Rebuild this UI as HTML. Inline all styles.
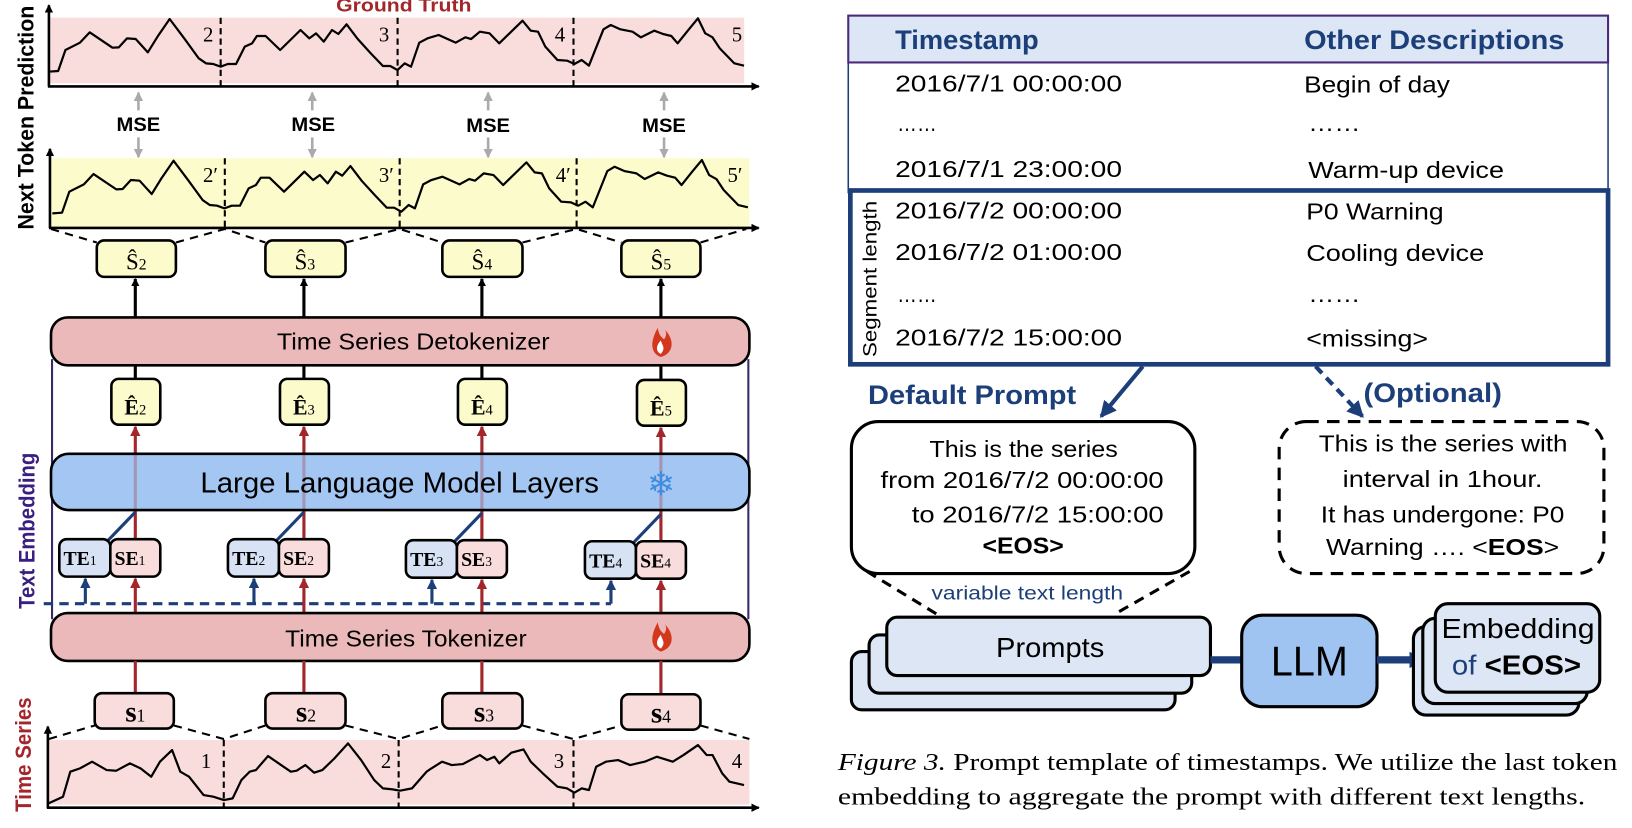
<!DOCTYPE html>
<html><head><meta charset="utf-8"><style>
html,body{margin:0;padding:0;background:#fff;width:1632px;height:828px;overflow:hidden}
svg{display:block}
text{font-family:"Liberation Sans",sans-serif}
.serif{font-family:"Liberation Serif",serif}
</style></head><body>
<svg width="1632" height="828" viewBox="0 0 1568 795.5" preserveAspectRatio="none" xmlns="http://www.w3.org/2000/svg">
<defs>
<marker id="ak" markerWidth="8" markerHeight="8" refX="7" refY="4" orient="auto" markerUnits="userSpaceOnUse"><path d="M0,0 L8,4 L0,8Z" fill="#000"/></marker>
<marker id="ar" markerWidth="10" markerHeight="10" refX="9" refY="5" orient="auto" markerUnits="userSpaceOnUse"><path d="M0,0 L10,5 L0,10Z" fill="#a3262b"/></marker>
<marker id="ab" markerWidth="10" markerHeight="10" refX="9" refY="5" orient="auto" markerUnits="userSpaceOnUse"><path d="M0,0 L10,5 L0,10Z" fill="#1c3f7a"/></marker>
<marker id="ag" markerWidth="9" markerHeight="9" refX="8" refY="4.5" orient="auto" markerUnits="userSpaceOnUse"><path d="M0,0 L9,4.5 L0,9Z" fill="#aaa"/></marker>
<marker id="aB" markerWidth="16" markerHeight="16" refX="14" refY="8" orient="auto" markerUnits="userSpaceOnUse"><path d="M0,0 L16,8 L0,16Z" fill="#1c3f7a"/></marker>
<g id="fire"><path d="M0,14 C-11,10 -10,-2 -3,-14 C-2,-6 2,-4 3,-3 C6,-7 5,-10 4,-12 C13,-3 13,10 0,14Z" fill="#d3381c"/><path d="M0,11 C-5,9 -5,3 0,-2 C1,3 5,5 0,11Z" fill="#fff"/></g>
</defs>

<text x="388" y="11" text-anchor="middle" font-size="18" font-weight="bold" fill="#a3262b" textLength="130" lengthAdjust="spacingAndGlyphs">Ground Truth</text>
<text transform="translate(32,113) rotate(-90)" text-anchor="middle" font-size="21" font-weight="bold" textLength="215" lengthAdjust="spacingAndGlyphs">Next Token Prediction</text>
<text transform="translate(33,510) rotate(-90)" text-anchor="middle" font-size="21" font-weight="bold" fill="#3a1d80" textLength="150" lengthAdjust="spacingAndGlyphs">Text Embedding</text>
<text transform="translate(30,725) rotate(-90)" text-anchor="middle" font-size="21" font-weight="bold" fill="#a3262b" textLength="110" lengthAdjust="spacingAndGlyphs">Time Series</text>

<rect x="47" y="17" width="668" height="63" fill="#f9dcdc"/>
<g stroke="#000" stroke-width="2" stroke-dasharray="6,4"><line x1="212" y1="17" x2="212" y2="83"/><line x1="382" y1="17" x2="382" y2="83"/><line x1="551" y1="17" x2="551" y2="83"/></g>
<polyline transform="scale(0.4657,0.3203)" vector-effect="non-scaling-stroke" fill="none" stroke="#000" stroke-width="2.2" stroke-linejoin="round" points="100,215 120,213 135,150 165,128 185,97 232,143 245,142 262,115 280,117 305,157 325,110 350,57 380,115 410,175 425,190 440,192 455,200 470,192 487,192 505,140 520,130 530,108 548,108 578,150 620,90 638,115 652,100 668,125 685,90 698,102 715,73 738,117 765,160 790,198 805,198 820,210 835,190 848,200 865,128 882,115 905,105 940,128 960,112 972,117 990,95 1010,100 1030,130 1078,62 1095,92 1110,95 1125,140 1150,180 1170,182 1185,192 1200,180 1215,197 1245,88 1260,75 1280,88 1305,95 1322,112 1350,92 1368,102 1385,108 1398,130 1420,90 1440,55 1455,100 1470,112 1485,145 1515,190 1535,197"/>
<line x1="47" y1="83" x2="47" y2="5" stroke="#000" stroke-width="2.5" marker-end="url(#ak)"/>
<line x1="46" y1="83" x2="729" y2="83" stroke="#000" stroke-width="2.5" marker-end="url(#ak)"/>
<g><text x="195" y="40" class="serif" style="font-size:20px">2</text><text x="364" y="40" class="serif" style="font-size:20px">3</text><text x="533" y="40" class="serif" style="font-size:20px">4</text><text x="703" y="40" class="serif" style="font-size:20px">5</text></g>

<g stroke="#aaa" stroke-width="2.5">
<line x1="133" y1="106" x2="133" y2="89" marker-end="url(#ag)"/><line x1="133" y1="132" x2="133" y2="151" marker-end="url(#ag)"/>
<line x1="300" y1="106" x2="300" y2="89" marker-end="url(#ag)"/><line x1="300" y1="132" x2="300" y2="151" marker-end="url(#ag)"/>
<line x1="469" y1="106" x2="469" y2="89" marker-end="url(#ag)"/><line x1="469" y1="132" x2="469" y2="151" marker-end="url(#ag)"/>
<line x1="638" y1="106" x2="638" y2="89" marker-end="url(#ag)"/><line x1="638" y1="132" x2="638" y2="151" marker-end="url(#ag)"/>
</g>
<g font-size="19" font-weight="bold" text-anchor="middle"><text x="133" y="126" textLength="42" lengthAdjust="spacingAndGlyphs">MSE</text><text x="301" y="126" textLength="42" lengthAdjust="spacingAndGlyphs">MSE</text><text x="469" y="127" textLength="42" lengthAdjust="spacingAndGlyphs">MSE</text><text x="638" y="127" textLength="42" lengthAdjust="spacingAndGlyphs">MSE</text></g>

<rect x="49" y="152" width="671" height="66" fill="#fcfbcb"/>
<g stroke="#000" stroke-width="2" stroke-dasharray="6,4"><line x1="216" y1="152" x2="216" y2="219"/><line x1="384" y1="152" x2="384" y2="219"/><line x1="554" y1="152" x2="554" y2="219"/></g>
<polyline transform="scale(0.4657,0.3203) translate(8,425)" vector-effect="non-scaling-stroke" fill="none" stroke="#000" stroke-width="2.2" stroke-linejoin="round" points="100,215 120,213 135,150 165,128 185,97 232,143 245,142 262,115 280,117 305,157 325,110 350,57 380,115 410,175 425,190 440,192 455,200 470,192 487,192 505,140 520,130 530,108 548,108 578,150 620,90 638,115 652,100 668,125 685,90 698,102 715,73 738,117 765,160 790,198 805,198 820,210 835,190 848,200 865,128 882,115 905,105 940,128 960,112 972,117 990,95 1010,100 1030,130 1078,62 1095,92 1110,95 1125,140 1150,180 1170,182 1185,192 1200,180 1215,197 1245,88 1260,75 1280,88 1305,95 1322,112 1350,92 1368,102 1385,108 1398,130 1420,90 1440,55 1455,100 1470,112 1485,145 1515,190 1535,197"/>
<line x1="48" y1="219" x2="48" y2="143" stroke="#000" stroke-width="2.5" marker-end="url(#ak)"/>
<line x1="47" y1="219" x2="729" y2="219" stroke="#000" stroke-width="2.5" marker-end="url(#ak)"/>
<g><text x="195" y="175" class="serif" style="font-size:20px">2′</text><text x="364" y="175" class="serif" style="font-size:20px">3′</text><text x="534" y="175" class="serif" style="font-size:20px">4′</text><text x="699" y="175" class="serif" style="font-size:20px">5′</text></g>

<g stroke="#000" stroke-width="2" stroke-dasharray="8,6" fill="none">
<polyline points="49,220 93,233"/><polyline points="169,233 216,220 255,233"/><polyline points="332,233 384,220 425,233"/><polyline points="502,233 554,220 597,233"/><polyline points="673,233 717,220"/>
</g>
<g fill="#fcfbcb" stroke="#000" stroke-width="2.5">
<rect x="93" y="231" width="76" height="35" rx="7"/><rect x="255" y="231" width="77" height="35" rx="7"/><rect x="425" y="231" width="77" height="35" rx="7"/><rect x="597" y="231" width="76" height="35" rx="7"/>
</g>
<g text-anchor="middle">
<text x="131" y="259" class="serif" style="font-size:22px">Ŝ<tspan style="font-size:15px">2</tspan></text><text x="293" y="259" class="serif" style="font-size:22px">Ŝ<tspan style="font-size:15px">3</tspan></text><text x="463" y="259" class="serif" style="font-size:22px">Ŝ<tspan style="font-size:15px">4</tspan></text><text x="635" y="259" class="serif" style="font-size:22px">Ŝ<tspan style="font-size:15px">5</tspan></text>
</g>
<g stroke="#000" stroke-width="3"><line x1="130" y1="305" x2="130" y2="268" marker-end="url(#ak)"/><line x1="292" y1="305" x2="292" y2="268" marker-end="url(#ak)"/><line x1="463" y1="305" x2="463" y2="268" marker-end="url(#ak)"/><line x1="635" y1="305" x2="635" y2="268" marker-end="url(#ak)"/></g>

<line x1="50" y1="345" x2="50" y2="595" stroke="#3a2a6a" stroke-width="2"/>
<line x1="719" y1="345" x2="719" y2="595" stroke="#3a2a6a" stroke-width="2"/>

<rect x="49" y="305" width="671" height="46" rx="16" fill="#ebb9b9" stroke="#000" stroke-width="2.5"/>
<text x="397" y="336" text-anchor="middle" font-size="22" textLength="262" lengthAdjust="spacingAndGlyphs">Time Series Detokenizer</text>
<use href="#fire" x="635" y="329"/>

<g stroke="#000" stroke-width="3"><line x1="130" y1="351" x2="130" y2="364"/><line x1="292" y1="351" x2="292" y2="364"/><line x1="463" y1="351" x2="463" y2="364"/><line x1="635" y1="351" x2="635" y2="364"/></g>
<g fill="#fcfbcb" stroke="#000" stroke-width="2.5">
<rect x="107" y="364" width="47" height="44" rx="7"/><rect x="269" y="364" width="47" height="44" rx="7"/><rect x="440" y="364" width="47" height="44" rx="7"/><rect x="612" y="365" width="47" height="44" rx="7"/>
</g>
<g font-weight="bold" text-anchor="middle">
<text x="130" y="398" class="serif" style="font-size:21px">Ê<tspan style="font-size:14px;font-weight:normal">2</tspan></text><text x="292" y="398" class="serif" style="font-size:21px">Ê<tspan style="font-size:14px;font-weight:normal">3</tspan></text><text x="463" y="398" class="serif" style="font-size:21px">Ê<tspan style="font-size:14px;font-weight:normal">4</tspan></text><text x="635" y="399" class="serif" style="font-size:21px">Ê<tspan style="font-size:14px;font-weight:normal">5</tspan></text>
</g>

<g stroke="#a3262b" stroke-width="3">
<line x1="130" y1="437" x2="130" y2="410" marker-end="url(#ar)"/><line x1="292" y1="437" x2="292" y2="410" marker-end="url(#ar)"/><line x1="463" y1="437" x2="463" y2="410" marker-end="url(#ar)"/><line x1="635" y1="437" x2="635" y2="411" marker-end="url(#ar)"/>
<line x1="130" y1="489" x2="130" y2="519"/><line x1="292" y1="489" x2="292" y2="519"/><line x1="463" y1="489" x2="463" y2="519"/><line x1="635" y1="489" x2="635" y2="519"/>
</g>
<rect x="49" y="436" width="671" height="54" rx="17" fill="#a3c6f2" stroke="#000" stroke-width="2.5"/>
<g stroke="#a3262b" stroke-width="3" opacity="0.3"><line x1="130" y1="437" x2="130" y2="489"/><line x1="292" y1="437" x2="292" y2="489"/><line x1="463" y1="437" x2="463" y2="489"/><line x1="635" y1="437" x2="635" y2="489"/></g>
<text x="384" y="473" text-anchor="middle" font-size="28" textLength="383" lengthAdjust="spacingAndGlyphs">Large Language Model Layers</text>
<text x="635" y="476" text-anchor="middle" style="font-size:32px" fill="#3d8de0">❄</text>

<g stroke="#1c3f7a" stroke-width="3"><line x1="104" y1="519" x2="130" y2="492"/><line x1="266" y1="519" x2="292" y2="492"/><line x1="437" y1="520" x2="463" y2="493"/><line x1="609" y1="521" x2="635" y2="494"/></g>
<g stroke="#000" stroke-width="2.5">
<rect x="57" y="518" width="49" height="36" rx="7" fill="#d7e3f4"/><rect x="106" y="518" width="48" height="36" rx="7" fill="#f9dcdc"/>
<rect x="219" y="518" width="49" height="36" rx="7" fill="#d7e3f4"/><rect x="268" y="518" width="48" height="36" rx="7" fill="#f9dcdc"/>
<rect x="390" y="519" width="49" height="36" rx="7" fill="#d7e3f4"/><rect x="439" y="519" width="48" height="36" rx="7" fill="#f9dcdc"/>
<rect x="562" y="520" width="49" height="36" rx="7" fill="#d7e3f4"/><rect x="611" y="520" width="48" height="36" rx="7" fill="#f9dcdc"/>
</g>
<g font-weight="bold">
<text x="61" y="543" class="serif" style="font-size:19px">TE<tspan style="font-size:13px;font-weight:normal">1</tspan></text><text x="110" y="543" class="serif" style="font-size:19px">SE<tspan style="font-size:13px;font-weight:normal">1</tspan></text>
<text x="223" y="543" class="serif" style="font-size:19px">TE<tspan style="font-size:13px;font-weight:normal">2</tspan></text><text x="272" y="543" class="serif" style="font-size:19px">SE<tspan style="font-size:13px;font-weight:normal">2</tspan></text>
<text x="394" y="544" class="serif" style="font-size:19px">TE<tspan style="font-size:13px;font-weight:normal">3</tspan></text><text x="443" y="544" class="serif" style="font-size:19px">SE<tspan style="font-size:13px;font-weight:normal">3</tspan></text>
<text x="566" y="545" class="serif" style="font-size:19px">TE<tspan style="font-size:13px;font-weight:normal">4</tspan></text><text x="615" y="545" class="serif" style="font-size:19px">SE<tspan style="font-size:13px;font-weight:normal">4</tspan></text>
</g>
<line x1="42" y1="580" x2="587" y2="580" stroke="#1c3f7a" stroke-width="3" stroke-dasharray="9,6"/>
<g stroke="#1c3f7a" stroke-width="3"><line x1="82" y1="580" x2="82" y2="556" marker-end="url(#ab)"/><line x1="244" y1="580" x2="244" y2="556" marker-end="url(#ab)"/><line x1="415" y1="580" x2="415" y2="557" marker-end="url(#ab)"/><line x1="587" y1="580" x2="587" y2="558" marker-end="url(#ab)"/></g>
<g stroke="#a3262b" stroke-width="3"><line x1="130" y1="590" x2="130" y2="556" marker-end="url(#ar)"/><line x1="292" y1="590" x2="292" y2="556" marker-end="url(#ar)"/><line x1="463" y1="590" x2="463" y2="557" marker-end="url(#ar)"/><line x1="635" y1="590" x2="635" y2="558" marker-end="url(#ar)"/></g>

<rect x="49" y="589" width="671" height="46" rx="16" fill="#ebb9b9" stroke="#000" stroke-width="2.5"/>
<text x="390" y="621" text-anchor="middle" font-size="22" textLength="232" lengthAdjust="spacingAndGlyphs">Time Series Tokenizer</text>
<use href="#fire" x="635" y="612"/>

<g stroke="#a3262b" stroke-width="3"><line x1="130" y1="635" x2="130" y2="666"/><line x1="292" y1="635" x2="292" y2="666"/><line x1="463" y1="635" x2="463" y2="666"/><line x1="635" y1="635" x2="635" y2="666"/></g>
<g fill="#f9dcdc" stroke="#000" stroke-width="2.5">
<rect x="91" y="666" width="76" height="34" rx="7"/><rect x="255" y="666" width="77" height="34" rx="7"/><rect x="425" y="666" width="77" height="34" rx="7"/><rect x="597" y="667" width="76" height="34" rx="7"/>
</g>
<g text-anchor="middle" font-weight="bold"><text x="130" y="693" class="serif" style="font-size:28px">s<tspan style="font-size:17px;font-weight:normal">1</tspan></text><text x="294" y="693" class="serif" style="font-size:28px">s<tspan style="font-size:17px;font-weight:normal">2</tspan></text><text x="465" y="693" class="serif" style="font-size:28px">s<tspan style="font-size:17px;font-weight:normal">3</tspan></text><text x="635" y="694" class="serif" style="font-size:28px">s<tspan style="font-size:17px;font-weight:normal">4</tspan></text></g>

<rect x="46" y="711" width="674" height="62" fill="#f9dcdc"/>
<g stroke="#000" stroke-width="2" stroke-dasharray="8,6" fill="none">
<polyline points="47,710 91,697"/><polyline points="167,697 215,710 255,697"/><polyline points="332,697 383,710 425,697"/><polyline points="502,697 551,710 597,697"/><polyline points="673,697 720,710"/>
</g>
<g stroke="#000" stroke-width="2" stroke-dasharray="6,4"><line x1="215" y1="711" x2="215" y2="776"/><line x1="383" y1="711" x2="383" y2="776"/><line x1="551" y1="711" x2="551" y2="776"/></g>
<polyline transform="translate(0,288.2) scale(0.4657,0.3203)" vector-effect="non-scaling-stroke" fill="none" stroke="#000" stroke-width="2.2" stroke-linejoin="round" points="100,1510 130,1490 145,1415 165,1405 190,1385 220,1410 240,1412 268,1390 290,1405 312,1430 330,1385 355,1350 372,1415 390,1430 420,1485 440,1490 462,1500 480,1495 498,1440 515,1415 528,1410 553,1368 580,1395 600,1415 612,1412 630,1395 648,1418 665,1410 690,1375 718,1330 745,1380 772,1440 790,1465 810,1468 825,1472 850,1465 880,1415 890,1405 912,1385 932,1395 955,1392 990,1365 1005,1380 1020,1370 1030,1390 1055,1358 1080,1348 1095,1385 1120,1420 1150,1460 1170,1465 1185,1478 1200,1465 1215,1470 1230,1400 1250,1385 1275,1380 1300,1395 1330,1385 1355,1370 1388,1385 1410,1365 1440,1335 1458,1365 1470,1365 1490,1420 1505,1445 1535,1455"/>
<line x1="46" y1="776" x2="46" y2="698" stroke="#000" stroke-width="2.5" marker-end="url(#ak)"/>
<line x1="45" y1="776" x2="729" y2="776" stroke="#000" stroke-width="2.5" marker-end="url(#ak)"/>
<g><text x="193" y="738" class="serif" style="font-size:20px">1</text><text x="366" y="738" class="serif" style="font-size:20px">2</text><text x="532" y="738" class="serif" style="font-size:20px">3</text><text x="703" y="738" class="serif" style="font-size:20px">4</text></g>

<rect x="815" y="60" width="730" height="125" fill="#fff" stroke="#1c3f7a" stroke-width="1.5"/>
<rect x="815" y="15" width="730" height="45" fill="#dce6f4" stroke="#4a2a7a" stroke-width="2"/>
<g fill="#1c3f7a" font-weight="bold" font-size="26">
<text x="860" y="47" textLength="138" lengthAdjust="spacingAndGlyphs">Timestamp</text>
<text x="1253" y="47" textLength="250" lengthAdjust="spacingAndGlyphs">Other Descriptions</text>
</g>
<rect x="817" y="183" width="728" height="167" fill="#fff" stroke="#1c3f7a" stroke-width="4.5"/>
<g font-size="22">
<text x="860" y="88" textLength="218" lengthAdjust="spacingAndGlyphs">2016/7/1  00:00:00</text>
<text x="1253" y="89" textLength="140" lengthAdjust="spacingAndGlyphs">Begin of day</text>
<text x="862" y="126" textLength="38" lengthAdjust="spacingAndGlyphs">……</text>
<text x="1257" y="126" textLength="50" lengthAdjust="spacingAndGlyphs">……</text>
<text x="860" y="170" textLength="218" lengthAdjust="spacingAndGlyphs">2016/7/1  23:00:00</text>
<text x="1257" y="171" textLength="188" lengthAdjust="spacingAndGlyphs">Warm-up device</text>
<text x="860" y="210" textLength="218" lengthAdjust="spacingAndGlyphs">2016/7/2  00:00:00</text>
<text x="1255" y="211" textLength="132" lengthAdjust="spacingAndGlyphs">P0 Warning</text>
<text x="860" y="250" textLength="218" lengthAdjust="spacingAndGlyphs">2016/7/2  01:00:00</text>
<text x="1255" y="251" textLength="171" lengthAdjust="spacingAndGlyphs">Cooling device</text>
<text x="862" y="290" textLength="38" lengthAdjust="spacingAndGlyphs">……</text>
<text x="1257" y="290" textLength="50" lengthAdjust="spacingAndGlyphs">……</text>
<text x="860" y="332" textLength="218" lengthAdjust="spacingAndGlyphs">2016/7/2  15:00:00</text>
<text x="1255" y="333" textLength="117" lengthAdjust="spacingAndGlyphs">&lt;missing&gt;</text>
</g>
<text transform="translate(842,268) rotate(-90)" text-anchor="middle" font-size="19" textLength="150" lengthAdjust="spacingAndGlyphs">Segment length</text>

<line x1="1098" y1="352" x2="1058" y2="400" stroke="#1c3f7a" stroke-width="4" marker-end="url(#aB)"/>
<line x1="1264" y1="352" x2="1309" y2="400" stroke="#1c3f7a" stroke-width="4" stroke-dasharray="9,6" marker-end="url(#aB)"/>
<g fill="#1c3f7a" font-weight="bold" font-size="26">
<text x="834" y="388" textLength="200" lengthAdjust="spacingAndGlyphs">Default Prompt</text>
<text x="1310" y="386" textLength="133" lengthAdjust="spacingAndGlyphs">(Optional)</text>
</g>

<rect x="818" y="405" width="330" height="146" rx="26" fill="#fff" stroke="#000" stroke-width="3"/>
<g font-size="22">
<text x="893" y="439" textLength="181" lengthAdjust="spacingAndGlyphs">This is the series</text>
<text x="846" y="469" textLength="272" lengthAdjust="spacingAndGlyphs">from 2016/7/2 00:00:00</text>
<text x="876" y="502" textLength="242" lengthAdjust="spacingAndGlyphs">to 2016/7/2 15:00:00</text>
<text x="944" y="532" font-weight="bold" textLength="78" lengthAdjust="spacingAndGlyphs">&lt;EOS&gt;</text>
</g>
<rect x="1229" y="405" width="312" height="146" rx="26" fill="#fff" stroke="#000" stroke-width="3" stroke-dasharray="12,8"/>
<g font-size="22">
<text x="1267" y="434" textLength="239" lengthAdjust="spacingAndGlyphs">This is the series with</text>
<text x="1290" y="468" textLength="192" lengthAdjust="spacingAndGlyphs">interval in 1hour.</text>
<text x="1269" y="502" textLength="234" lengthAdjust="spacingAndGlyphs">It has undergone: P0</text>
<text x="1274" y="533" textLength="224" lengthAdjust="spacingAndGlyphs">Warning …. &lt;<tspan font-weight="bold">EOS</tspan>&gt;</text>
</g>

<line x1="833" y1="549" x2="900" y2="590" stroke="#000" stroke-width="3" stroke-dasharray="10,7"/>
<line x1="1143" y1="549" x2="1071" y2="590" stroke="#000" stroke-width="3" stroke-dasharray="10,7"/>
<text x="895" y="576" font-size="19" fill="#1c3f7a" textLength="184" lengthAdjust="spacingAndGlyphs">variable text length</text>

<g fill="#dce6f4" stroke="#000" stroke-width="3">
<rect x="818" y="626" width="311" height="56" rx="10"/>
<rect x="835" y="610" width="310" height="56" rx="10"/>
<rect x="852" y="593" width="311" height="56" rx="10"/>
</g>
<text x="1009" y="631" text-anchor="middle" font-size="27" textLength="104" lengthAdjust="spacingAndGlyphs">Prompts</text>
<line x1="1163" y1="634" x2="1193" y2="634" stroke="#1c3f7a" stroke-width="7"/>
<rect x="1193" y="591" width="130" height="88" rx="20" fill="#a0c4f2" stroke="#000" stroke-width="3"/>
<text x="1258" y="649" text-anchor="middle" font-size="40" textLength="74" lengthAdjust="spacingAndGlyphs">LLM</text>
<line x1="1323" y1="634" x2="1368" y2="634" stroke="#1c3f7a" stroke-width="7" marker-end="url(#aB)"/>
<g fill="#dce6f4" stroke="#000" stroke-width="3">
<rect x="1358" y="602" width="159" height="85" rx="12"/>
<rect x="1367" y="594" width="158" height="82" rx="12"/>
<rect x="1379" y="580" width="158" height="85" rx="12"/>
</g>
<text x="1385" y="613" font-size="27" textLength="147" lengthAdjust="spacingAndGlyphs">Embedding</text>
<text x="1395" y="648" font-size="27" textLength="124" lengthAdjust="spacingAndGlyphs"><tspan fill="#1c3f7a">of </tspan><tspan font-weight="bold">&lt;EOS&gt;</tspan></text>

<g>
<text x="805" y="740" class="serif" style="font-size:23px" textLength="749" lengthAdjust="spacingAndGlyphs"><tspan font-style="italic">Figure 3.</tspan> Prompt template of timestamps. We utilize the last token</text>
<text x="805" y="773" class="serif" style="font-size:23px" textLength="718" lengthAdjust="spacingAndGlyphs">embedding to aggregate the prompt with different text lengths.</text>
</g>
</svg>
</body></html>
